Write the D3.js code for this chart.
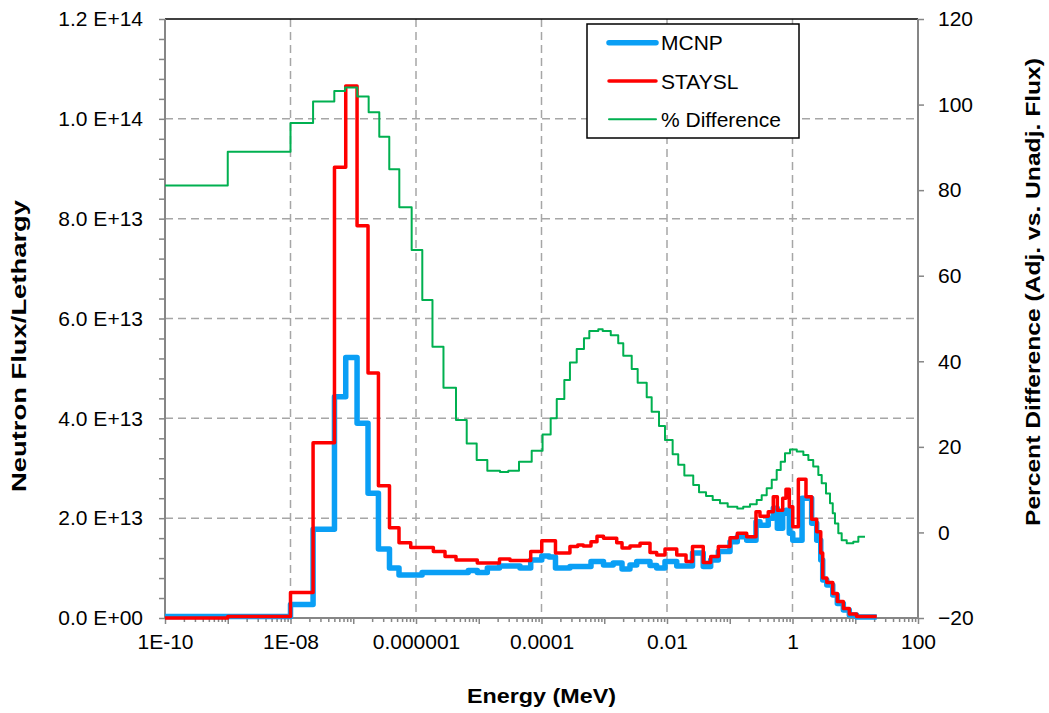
<!DOCTYPE html>
<html lang="en">
<head>
<meta charset="utf-8">
<title>Neutron Flux</title>
<script src="https://cdn.jsdelivr.net/npm/d3@7"></script>
<style>
  body { margin: 0; background: #fff; }
  svg { font-family: "Liberation Sans", Arial, sans-serif; }
  .grid line { stroke: #a6a6a6; stroke-width: 1.5; stroke-dasharray: 8,5; }
  .axis text { font-size: 21px; fill: #000; }
  .axis line { stroke: #868686; stroke-width: 1.5; }
  .title { font-weight: bold; font-size: 21px; }
</style>
</head>
<body>
<script>
// flux group edges (MeV) and values (units of 1E+13, per lethargy)
const fluxEdges = [1e-10, 1e-9, 1e-8, 2.29e-8, 5.02e-8, 7.59e-8, 1.15e-7, 1.72e-7, 2.52e-7, 3.78e-7,
  5.36e-7, 8.24e-7, 1.25e-6, 1.89e-6, 2.90e-6, 4.34e-6, 6.81e-6, 9.48e-6, 1.37e-5, 2.14e-5,
  3.15e-5, 4.54e-5, 6.73e-5, 1.01e-4, 1.32e-4, 1.67e-4, 2.84e-4, 3.78e-4, 4.63e-4, 6.15e-4,
  7.66e-4, 9.73e-4, 1.39e-3, 1.58e-3, 1.92e-3, 2.57e-3, 3.29e-3, 3.72e-3, 5.36e-3, 6.85e-3,
  9.29e-3, 1.43e-2, 2.01e-2, 2.55e-2, 3.78e-2, 4.97e-2, 6.58e-2, 0.101, 0.132, 0.186,
  0.262, 0.303, 0.411, 0.494, 0.573, 0.698, 0.787, 0.889, 1.01, 1.24,
  1.42, 1.64, 2.02, 2.43, 2.82, 3.03, 3.52, 4.38, 5.18, 6.46,
  8.04, 10.5, 22.0];
const mcnpFlux = [0.03, 0.03, 0.27, 1.78, 4.43, 5.22, 3.90, 2.50, 1.38, 1.00,
  0.86, 0.86, 0.91, 0.91, 0.91, 0.91, 0.95, 0.91, 1.00, 1.04,
  1.04, 1.00, 1.16, 1.24, 1.22, 1.00, 1.03, 1.03, 1.03, 1.13,
  1.13, 1.06, 1.10, 1.10, 0.98, 1.06, 1.13, 1.13, 1.05, 1.00,
  1.13, 1.04, 1.04, 1.30, 1.03, 1.16, 1.33, 1.53, 1.63, 1.56,
  1.93, 1.86, 2.00, 2.20, 1.80, 2.10, 2.16, 1.70, 1.56, 1.56,
  2.40, 2.40, 1.90, 1.56, 1.16, 0.76, 0.66, 0.46, 0.29, 0.16,
  0.06, 0.02];
const staysFlux = [0.0, 0.03, 0.51, 3.51, 9.03, 10.66, 7.86, 4.91, 2.65, 1.81,
  1.51, 1.41, 1.41, 1.33, 1.23, 1.16, 1.16, 1.10, 1.10, 1.18,
  1.15, 1.15, 1.33, 1.55, 1.55, 1.30, 1.43, 1.46, 1.44, 1.53,
  1.64, 1.60, 1.60, 1.51, 1.40, 1.44, 1.44, 1.50, 1.31, 1.26,
  1.38, 1.26, 1.13, 1.43, 1.11, 1.23, 1.43, 1.61, 1.70, 1.63,
  2.13, 2.04, 2.13, 2.43, 2.16, 2.40, 2.58, 2.23, 1.83, 2.78,
  2.78, 2.43, 1.98, 1.73, 1.30, 0.80, 0.71, 0.49, 0.33, 0.19,
  0.08, 0.03];

// % difference group edges (MeV) and values
const pctEdges = [1e-10, 1e-9, 1e-8, 2.29e-8, 4.99e-8, 7.4e-8, 1.16e-7, 1.76e-7, 2.6e-7, 3.75e-7,
  5.42e-7, 8.53e-7, 1.26e-6, 1.83e-6, 2.74e-6, 4.34e-6, 6.43e-6, 9.27e-6, 1.37e-5, 2.18e-5,
  2.96e-5, 4.38e-5, 6.98e-5, 1.04e-4, 1.40e-4, 1.75e-4, 2.31e-4, 2.84e-4, 3.64e-4, 4.75e-4,
  5.78e-4, 8.04e-4, 9.44e-4, 1.27e-3, 1.67e-3, 2.01e-3, 2.74e-3, 3.41e-3, 4.75e-3, 5.70e-3,
  7.46e-3, 9.29e-3, 1.23e-2, 1.51e-2, 1.89e-2, 2.62e-2, 3.24e-2, 4.19e-2, 5.35e-2, 7.0e-2,
  9.27e-2, 0.132, 0.164, 0.210, 0.269, 0.323, 0.388, 0.467, 0.560, 0.649,
  0.759, 0.912, 1.17, 1.49, 1.79, 2.14, 2.58, 2.92, 3.42, 3.96,
  4.38, 4.75, 5.37, 6.08, 7.31, 9.31, 11.2, 14.3];
const pctDiff = [81.1, 89.0, 95.7, 100.7, 103.2, 104.0, 101.9, 98.2, 92.5, 84.9,
  76.0, 66.0, 54.3, 43.4, 33.8, 26.3, 20.8, 16.9, 14.4, 14.1,
  14.4, 16.5, 19.1, 22.9, 26.7, 31.2, 35.6, 39.7, 42.9, 45.4,
  47.1, 47.5, 47.1, 46.1, 44.2, 41.3, 38.2, 35.0, 31.6, 28.2,
  24.9, 21.6, 18.3, 15.8, 13.3, 11.1, 9.4, 8.5, 7.6, 6.8,
  6.0, 5.6, 6.0, 6.6, 7.6, 8.7, 10.3, 12.3, 14.6, 16.5,
  18.5, 19.4, 18.9, 18.1, 16.9, 15.4, 13.4, 11.5, 9.1, 6.8,
  4.5, 2.1, -0.2, -1.8, -2.5, -2.2, -1.0];

const seriesNames = ["MCNP", "STAYSL", "% Difference"];
const seriesColors = ["#0a9ff5", "#ff0000", "#00b050"];
const seriesWidths = [5.5, 3.5, 2];

const xTickLabels = {"-10": "1E-10", "-8": "1E-08", "-6": "0.000001", "-4": "0.0001", "-2": "0.01", "0": "1", "2": "100"};

const width = 1049, height = 713;
const margin = {top: 19, right: 131, bottom: 95, left: 165};

const svg = d3.select("body").append("svg")
  .attr("width", width)
  .attr("height", height);

const x = d3.scaleLog().domain([1e-10, 100]).range([margin.left, width - margin.right]);
const y = d3.scaleLinear().domain([0, 12]).range([height - margin.bottom, margin.top]);
const yR = d3.scaleLinear().domain([-20, 120]).range([height - margin.bottom, margin.top]);

const x0 = margin.left, x1 = width - margin.right;
const y0 = height - margin.bottom, y1 = margin.top;

// grid
const majorDecades = [-8, -6, -4, -2, 0];
svg.append("g").attr("class", "grid")
  .selectAll("line.v").data(majorDecades).join("line")
  .attr("x1", d => x(Math.pow(10, d))).attr("x2", d => x(Math.pow(10, d)))
  .attr("y1", y1).attr("y2", y0);
svg.append("g").attr("class", "grid")
  .selectAll("line.h").data([2, 4, 6, 8, 10]).join("line")
  .attr("x1", x0).attr("x2", x1)
  .attr("y1", d => y(d)).attr("y2", d => y(d));

// top border
svg.append("line").attr("x1", x0).attr("x2", x1).attr("y1", y1).attr("y2", y1)
  .attr("stroke", "#000").attr("stroke-width", 1.5);

// bottom axis
const xTicks = [];
for (let e = -10; e <= 2; e++) {
  for (let m = 1; m <= 9; m++) {
    if (e === 2 && m > 1) break;
    xTicks.push(m * Math.pow(10, e));
  }
}
const xAxis = d3.axisBottom(x)
  .tickValues(xTicks)
  .tickSizeOuter(0)
  .tickPadding(10)
  .tickFormat(d => {
    const e = Math.round(Math.log10(d));
    const isDecade = Math.abs(d / Math.pow(10, e) - 1) < 1e-6;
    return isDecade && xTickLabels[e] ? xTickLabels[e] : "";
  });
const gx = svg.append("g").attr("class", "axis")
  .attr("transform", `translate(0,${y0})`)
  .call(xAxis);
gx.selectAll(".tick line").attr("y2", d => {
  const e = Math.round(Math.log10(d));
  return Math.abs(d / Math.pow(10, e) - 1) < 1e-6 ? 6 : 4;
});
gx.select(".domain").remove();

// left axis
const fmtFlux = v => {
  const s = (v * 1e13).toExponential(1).split("e");
  const ex = parseInt(s[1], 10);
  return s[0] + " E+" + String(ex).padStart(2, "0");
};
const gy = svg.append("g").attr("class", "axis")
  .attr("transform", `translate(${x0},0)`)
  .call(d3.axisLeft(y)
    .tickValues(d3.range(0, 31).map(i => i * 0.4))
    .tickSize(6)
    .tickPadding(16)
    .tickFormat(d => (Math.abs(d / 2 - Math.round(d / 2)) < 1e-6 ? fmtFlux(d) : "")));
gy.select(".domain").remove();

// right axis
const gr = svg.append("g").attr("class", "axis")
  .attr("transform", `translate(${x1},0)`)
  .call(d3.axisRight(yR)
    .tickValues(d3.range(-20, 121, 20))
    .tickSize(6)
    .tickPadding(14));
gr.select(".domain").remove();

// axis lines
svg.append("line").attr("x1", x0).attr("x2", x0).attr("y1", y1).attr("y2", y0)
  .attr("stroke", "#868686").attr("stroke-width", 2);
svg.append("line").attr("x1", x1).attr("x2", x1).attr("y1", y1).attr("y2", y0)
  .attr("stroke", "#868686").attr("stroke-width", 2);
svg.append("line").attr("x1", x0).attr("x2", x1).attr("y1", y0).attr("y2", y0)
  .attr("stroke", "#868686").attr("stroke-width", 2);

// step series
function steps(edges, vals) {
  const pts = vals.map((v, i) => [edges[i], v]);
  pts.push([edges[edges.length - 1], vals[vals.length - 1]]);
  return pts;
}
const lineL = d3.line().x(d => x(d[0])).y(d => y(d[1])).curve(d3.curveStepAfter);
const lineR = d3.line().x(d => x(d[0])).y(d => yR(d[1])).curve(d3.curveStepAfter);

const plotData = [
  {pts: steps(fluxEdges, mcnpFlux), line: lineL},
  {pts: steps(fluxEdges, staysFlux), line: lineL},
  {pts: steps(pctEdges, pctDiff), line: lineR}
];
svg.append("g").selectAll("path").data(plotData).join("path")
  .attr("d", d => d.line(d.pts))
  .attr("fill", "none")
  .attr("stroke", (d, i) => seriesColors[i])
  .attr("stroke-width", (d, i) => seriesWidths[i])
  .attr("stroke-linejoin", "round");

// legend
const lg = svg.append("g").attr("transform", "translate(587,24)");
lg.append("rect").attr("width", 212).attr("height", 114)
  .attr("fill", "#fff").attr("stroke", "#000").attr("stroke-width", 1.5);
seriesNames.forEach((name, i) => {
  const yy = 18.7 + i * 38.3;
  lg.append("line").attr("x1", 22).attr("x2", 69).attr("y1", yy).attr("y2", yy)
    .attr("stroke", seriesColors[i]).attr("stroke-width", seriesWidths[i])
    .attr("stroke-linecap", "round");
  lg.append("text").attr("x", 74).attr("y", yy + 7.5)
    .attr("font-size", 21).text(name);
});

// axis titles
svg.append("text").attr("class", "title")
  .attr("x", (x0 + x1) / 2 - 0).attr("y", 703)
  .attr("text-anchor", "middle")
  .attr("textLength", 149).attr("lengthAdjust", "spacingAndGlyphs")
  .text("Energy (MeV)");
svg.append("text").attr("class", "title")
  .attr("transform", "translate(26,346) rotate(-90)")
  .attr("text-anchor", "middle")
  .attr("textLength", 292).attr("lengthAdjust", "spacingAndGlyphs")
  .text("Neutron Flux/Lethargy");
svg.append("text").attr("class", "title")
  .attr("transform", "translate(1040,292) rotate(-90)")
  .attr("text-anchor", "middle")
  .attr("textLength", 468).attr("lengthAdjust", "spacingAndGlyphs")
  .text("Percent Difference (Adj. vs. Unadj. Flux)");
</script>
</body>
</html>
